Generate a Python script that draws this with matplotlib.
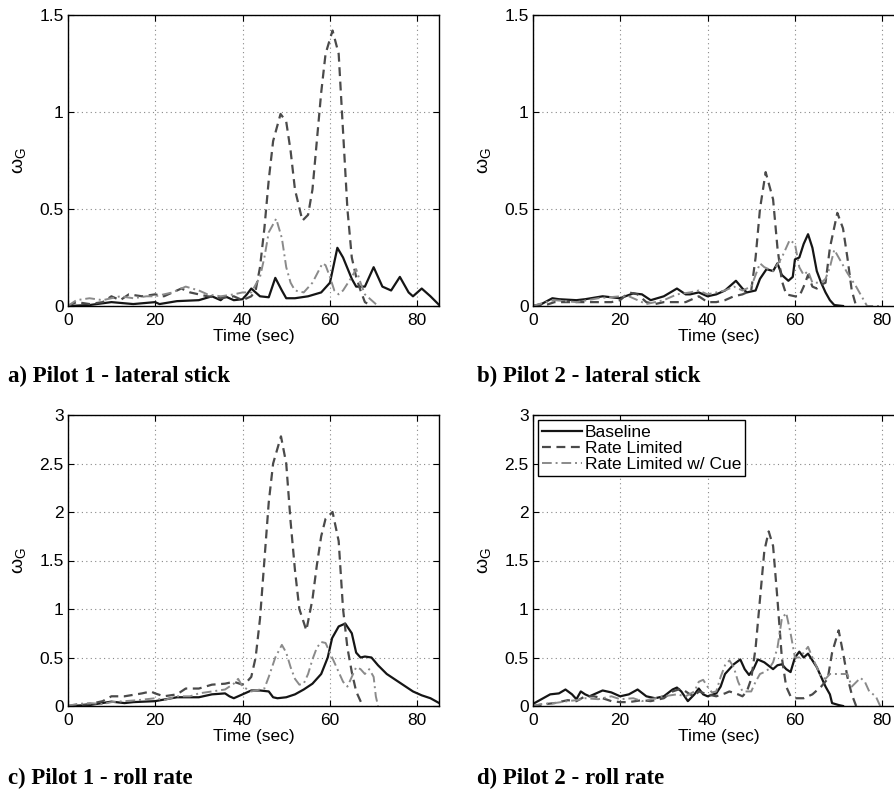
import matplotlib
matplotlib.use('Agg')
import matplotlib.pyplot as plt

plt.rcParams['font.family'] = ['Liberation Sans', 'DejaVu Sans']
plt.rcParams['mathtext.fontset'] = 'custom'
plt.rcParams['mathtext.rm'] = 'Liberation Sans'
plt.rcParams['mathtext.it'] = 'Liberation Sans'

# ---- data ----
# a) Pilot 1 - lateral stick
a_base_t = [0, 5, 10, 15, 20, 21, 25, 30, 33, 35, 36, 38, 40, 41, 42, 44, 46, 47.5, 49, 50, 52, 55, 58, 60,
            61.7, 63, 65, 66, 68, 70, 72, 74, 76, 78, 79, 81, 83, 85]
a_base_v = [0, 0.005, 0.02, 0.01, 0.02, 0.01, 0.025, 0.03, 0.05, 0.03, 0.05, 0.03, 0.035, 0.06, 0.09, 0.05,
            0.045, 0.145, 0.08, 0.04, 0.04, 0.05, 0.07, 0.12, 0.30, 0.25, 0.14, 0.10, 0.10, 0.20, 0.10, 0.08,
            0.15, 0.07, 0.05, 0.09, 0.05, 0.005]
a_rl_t = [0, 2, 5, 8, 10, 12, 14, 17, 20, 22, 25, 26, 28, 30, 32, 35, 38, 40, 42, 43, 44, 45, 46, 47, 48.7,
          50, 51, 52, 53.7, 55, 56, 57, 58, 59, 60.6, 62, 63, 64, 65, 66, 67, 68, 69.5]
a_rl_v = [0, 0.02, 0.01, 0.02, 0.05, 0.03, 0.06, 0.05, 0.06, 0.05, 0.08, 0.09, 0.07, 0.06, 0.05, 0.04, 0.05,
          0.03, 0.05, 0.08, 0.2, 0.4, 0.65, 0.85, 0.99, 0.95, 0.8, 0.6, 0.44, 0.47, 0.6, 0.85, 1.1, 1.3, 1.42,
          1.3, 0.9, 0.5, 0.25, 0.15, 0.08, 0.02, 0.0]
a_cue_t = [0, 2, 5, 8, 10, 12, 15, 18, 20, 24, 27, 30, 32, 35, 38, 40, 42, 44, 45, 46, 47.7, 49, 50, 51, 52,
           54, 56, 58.3, 59, 60, 61, 62, 63, 65, 66, 67, 68, 70, 71]
a_cue_v = [0, 0.03, 0.04, 0.03, 0.04, 0.05, 0.04, 0.05, 0.05, 0.07, 0.1, 0.08, 0.06, 0.05, 0.06, 0.07, 0.07,
           0.15, 0.25, 0.38, 0.45, 0.35, 0.2, 0.12, 0.08, 0.07, 0.12, 0.22, 0.21, 0.15, 0.08, 0.06, 0.08, 0.15,
           0.19, 0.12, 0.06, 0.02, 0.0]

# b) Pilot 2 - lateral stick
b_base_t = [0, 2, 4.5, 6, 10, 12, 16, 20, 23, 25, 27, 30, 33, 35, 36, 38, 40, 42, 44, 46.5, 48, 49, 51, 52,
            53.5, 55, 56, 57, 58.5, 59.5, 60, 61, 62, 63, 64, 65, 66, 67, 68, 69, 71]
b_base_v = [0, 0.01, 0.04, 0.035, 0.03, 0.035, 0.05, 0.04, 0.065, 0.06, 0.03, 0.05, 0.09, 0.06, 0.06, 0.07,
            0.05, 0.06, 0.08, 0.13, 0.09, 0.07, 0.08, 0.14, 0.19, 0.18, 0.22, 0.16, 0.13, 0.15, 0.24, 0.25,
            0.32, 0.37, 0.3, 0.18, 0.12, 0.07, 0.03, 0.005, 0.0]
b_rl_t = [0, 3, 5, 10, 15, 18, 20, 22, 24, 26, 28, 30, 35, 38, 40, 42, 44, 46, 48, 50, 51, 52, 53.3, 55, 56,
          57, 58, 60, 61, 62, 63, 64, 65, 66, 67, 68, 69.7, 71, 72, 73, 74]
b_rl_v = [0, 0.005, 0.02, 0.02, 0.02, 0.02, 0.03, 0.07, 0.06, 0.02, 0.01, 0.02, 0.02, 0.05, 0.02, 0.02,
          0.03, 0.05, 0.06, 0.08, 0.25, 0.5, 0.69, 0.55, 0.3, 0.13, 0.06, 0.05, 0.05, 0.1, 0.16, 0.1, 0.09,
          0.11, 0.12, 0.3, 0.48, 0.4, 0.25, 0.08, 0.0]
b_cue_t = [0, 3, 5, 10, 15, 20, 22, 24, 26, 28, 30, 33, 36, 38, 40, 44, 46, 48, 50, 52, 53, 55, 57, 58.8,
           60, 61, 62, 63, 64, 66, 67, 68, 69, 70, 72, 74, 76.5, 80]
b_cue_v = [0, 0.02, 0.03, 0.02, 0.04, 0.05, 0.05, 0.03, 0.01, 0.02, 0.03, 0.06, 0.07, 0.08, 0.06, 0.08, 0.1,
           0.08, 0.1, 0.22, 0.2, 0.18, 0.25, 0.34, 0.32, 0.2, 0.16, 0.18, 0.12, 0.12, 0.14, 0.2, 0.29, 0.25,
           0.17, 0.1, 0.0, 0.0]

# c) Pilot 1 - roll rate
c_base_t = [0, 5, 10, 13, 15, 20, 25, 30, 33, 36, 37, 38, 40, 42, 44, 46, 47, 48, 50, 52, 54, 56, 58, 59.5,
            60.5, 62, 63.5, 65, 66, 67, 68, 69.5, 71, 73, 75, 77, 79, 81, 83, 85]
c_base_v = [0, 0.01, 0.045, 0.03, 0.04, 0.05, 0.09, 0.09, 0.12, 0.13, 0.1, 0.08, 0.12, 0.16, 0.16, 0.15,
            0.09, 0.08, 0.09, 0.12, 0.17, 0.23, 0.33, 0.5, 0.7, 0.82, 0.85, 0.75, 0.55, 0.5, 0.51, 0.5, 0.42,
            0.33, 0.27, 0.21, 0.15, 0.11, 0.08, 0.03]
c_rl_t = [0, 3, 5, 8, 10, 13, 17, 19, 20, 22, 25, 27, 30, 33, 36, 38, 40, 41, 42, 43, 44, 45, 46, 47, 48.8,
          50, 51, 52, 53, 54.6, 56, 57, 58, 59, 60.6, 62, 63, 64, 65, 66, 67.5]
c_rl_v = [0, 0.01, 0.02, 0.05, 0.1, 0.1, 0.13, 0.15, 0.13, 0.1, 0.12, 0.18, 0.18, 0.22, 0.23, 0.25, 0.22,
          0.25, 0.3, 0.5, 0.9, 1.5, 2.1, 2.5, 2.78, 2.5, 1.9, 1.4, 1.0, 0.78, 1.1, 1.45, 1.75, 1.93, 2.0,
          1.7, 1.0, 0.6, 0.35, 0.15, 0.0]
c_cue_t = [0, 2, 5, 8, 10, 13, 16, 20, 22, 25, 28, 30, 33, 36, 38, 39, 40, 42, 45, 46, 47.5, 49, 50, 51, 52,
           53, 54, 55, 56, 57, 58, 59, 60, 61, 62, 63, 64, 65, 66, 67, 68, 69, 70, 70.5, 71]
c_cue_v = [0, 0.02, 0.03, 0.02, 0.04, 0.05, 0.06, 0.08, 0.06, 0.1, 0.1, 0.13, 0.15, 0.17, 0.23, 0.28, 0.2,
           0.15, 0.18, 0.3, 0.5, 0.63, 0.55, 0.4, 0.28, 0.22, 0.23, 0.33, 0.48, 0.6, 0.66, 0.65, 0.55, 0.45,
           0.35, 0.25, 0.2, 0.3, 0.4, 0.38, 0.33, 0.38, 0.3, 0.1, 0.0]

# d) Pilot 2 - roll rate
d_base_t = [0, 2, 4, 6, 7.5, 9, 10, 11, 12, 13, 16, 18, 20, 22, 24, 26, 28, 30, 32, 33, 34, 35.5, 37, 38, 39,
            40, 42, 43, 44, 46, 47.5, 48.5, 49.5, 50.5, 51.5, 53, 55, 56, 57, 58, 59, 60, 61, 62, 63, 64, 65,
            66, 67, 68, 68.5, 70, 71]
d_base_v = [0.02, 0.07, 0.12, 0.13, 0.17, 0.12, 0.07, 0.15, 0.12, 0.1, 0.16, 0.14, 0.1, 0.12, 0.17, 0.1, 0.08,
            0.1, 0.17, 0.19, 0.15, 0.05, 0.12, 0.18, 0.12, 0.1, 0.13, 0.2, 0.33, 0.43, 0.48, 0.38, 0.32, 0.38,
            0.48, 0.45, 0.38, 0.42, 0.43, 0.38, 0.35, 0.5, 0.56, 0.5, 0.54, 0.47, 0.4, 0.3, 0.2, 0.12, 0.03,
            0.01, 0.0]
d_rl_t = [0, 3, 5, 8, 10, 12, 14, 16, 18, 20, 22, 25, 27, 30, 32, 34, 36, 37, 38, 40, 42, 44, 45, 47, 48, 49,
          50, 51, 52, 53, 54, 55, 56, 57, 58, 59, 60, 62, 64, 66, 67.5, 68.5, 70, 71, 72, 73, 74]
d_rl_v = [0, 0.02, 0.03, 0.06, 0.05, 0.1, 0.1, 0.08, 0.05, 0.04, 0.04, 0.06, 0.05, 0.08, 0.15, 0.18, 0.12,
          0.1, 0.15, 0.12, 0.1, 0.13, 0.15, 0.12, 0.1, 0.15, 0.28, 0.6, 1.1, 1.6, 1.8, 1.65, 1.1, 0.5, 0.2,
          0.1, 0.08, 0.08, 0.12, 0.2, 0.28, 0.55, 0.78, 0.55, 0.3, 0.12, 0.0]
d_cue_t = [0, 2, 5, 8, 10, 12, 15, 18, 20, 23, 25, 28, 30, 33, 35, 37, 38, 39, 40, 41, 42, 43, 44, 45, 46,
           47, 48, 50, 51, 52, 53, 54, 55, 56, 57, 58, 59, 60, 61, 62, 63, 64, 65, 66, 67, 68, 70, 72, 73,
           75, 76, 77, 78.5, 79.5]
d_cue_v = [0, 0.02, 0.03, 0.05, 0.06, 0.08, 0.07, 0.1, 0.07, 0.08, 0.05, 0.08, 0.1, 0.12, 0.1, 0.15, 0.25,
           0.27, 0.2, 0.14, 0.15, 0.3, 0.42, 0.47, 0.4, 0.25, 0.15, 0.15, 0.25, 0.33, 0.35, 0.38, 0.45, 0.6,
           0.9, 0.96, 0.75, 0.5, 0.5, 0.55, 0.61, 0.5, 0.4, 0.3, 0.28, 0.33, 0.33, 0.33, 0.2, 0.29, 0.25,
           0.15, 0.1, 0.0]

captions = ['a) Pilot 1 - lateral stick', 'b) Pilot 2 - lateral stick',
            'c) Pilot 1 - roll rate', 'd) Pilot 2 - roll rate']
legend_labels = ['Baseline', 'Rate Limited', 'Rate Limited w/ Cue']

panels = [
    (a_base_t, a_base_v, a_rl_t, a_rl_v, a_cue_t, a_cue_v, 1.5),
    (b_base_t, b_base_v, b_rl_t, b_rl_v, b_cue_t, b_cue_v, 1.5),
    (c_base_t, c_base_v, c_rl_t, c_rl_v, c_cue_t, c_cue_v, 3),
    (d_base_t, d_base_v, d_rl_t, d_rl_v, d_cue_t, d_cue_v, 3),
]

W, H = 895, 796
fig = plt.figure(figsize=(W / 100, H / 100), dpi=100)

# axes rectangles in pixels: left, top, width, height
boxes = [(67.7, 15, 371.5, 291), (532.7, 15, 371.5, 291),
         (67.7, 415, 371.5, 291), (532.7, 415, 371.5, 291)]
cap_xy = [(8, 376), (477, 376), (8, 778), (477, 778)]

for i, (bt, bv, rt, rv, ct, cv, ymax) in enumerate(panels):
    l, t, w, h = boxes[i]
    ax = fig.add_axes([l / W, 1 - (t + h) / H, w / W, h / H])
    ax.plot(bt, bv, color='#151515', lw=1.6, ls='-', label=legend_labels[0])
    ax.plot(rt, rv, color='#4a4a4a', lw=1.6, ls=(0, (4, 2.5)), label=legend_labels[1])
    ax.plot(ct, cv, color='#8a8a8a', lw=1.4, ls=(0, (5, 2, 1, 2)), label=legend_labels[2])
    ax.set_xlim(0, 85)
    ax.set_ylim(0, ymax)
    ax.set_xticks([0, 20, 40, 60, 80])
    if ymax == 1.5:
        ax.set_yticks([0, 0.5, 1, 1.5])
        ax.set_yticklabels(['0', '0.5', '1', '1.5'])
    else:
        ax.set_yticks([0, 0.5, 1, 1.5, 2, 2.5, 3])
        ax.set_yticklabels(['0', '0.5', '1', '1.5', '2', '2.5', '3'])
    ax.grid(True, color='#888888', ls=(0, (1, 3)), lw=0.8)
    ax.tick_params(direction='in', length=4, top=True, right=True, labelsize=12.5)
    ax.tick_params(axis='x', pad=5)
    ax.tick_params(axis='y', pad=3)
    for s in ax.spines.values():
        s.set_linewidth(1.0)
    ax.set_xlabel('Time (sec)', fontsize=12.5, labelpad=1)
    ax.set_ylabel(r'$\omega_\mathregular{G}$', fontsize=14, labelpad=8)
    if i == 3:
        leg = ax.legend(loc='upper left', fontsize=12.5, handlelength=2.3, handletextpad=0.15,
                        borderpad=0.25, labelspacing=0.05, borderaxespad=0.3, fancybox=False,
                        framealpha=1)
        leg.get_frame().set_edgecolor('black')
        leg.get_frame().set_linewidth(1.0)
    cx, cy = cap_xy[i]
    fig.text(cx / W, 1 - cy / H, captions[i], family='Liberation Serif', weight='bold',
             fontsize=16.5, ha='left', va='center')

fig.savefig('out.png', dpi=100)
